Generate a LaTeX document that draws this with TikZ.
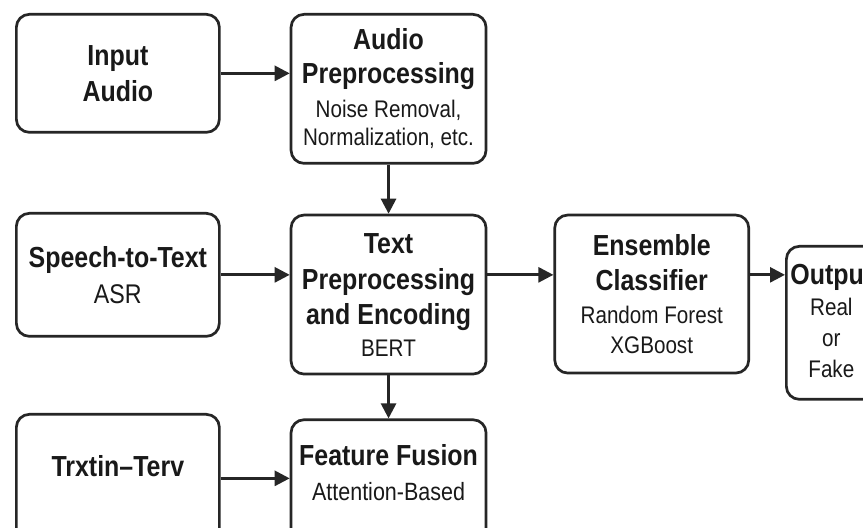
\documentclass[tikz,border=0pt]{standalone}
\usepackage{fontspec}
\setmainfont{Liberation Sans}[FakeStretch=0.86]
\usetikzlibrary{positioning, arrows.meta}

\newcommand\ttl{\fontsize{14.5}{14}\selectfont\bfseries}
\newcommand\sbt{\fontsize{12}{14}\selectfont\mdseries}

\tikzset{
  box/.style={draw=black!85, line width=1.35pt, rounded corners=6.5pt, align=center,
    font=\sbt, text=black!90, inner sep=2pt, anchor=north west},
  flow/.style={-{Triangle[length=7.5pt,width=7.5pt]}, line width=1.35pt, draw=black!85},
}

\begin{document}
\begin{tikzpicture}[x=0.5pt, y=-0.5pt]
\clip (0,0) rectangle (863,528);
\fill[white] (0,0) rectangle (863,528);

% top row
\node[box, minimum width=101.5pt, minimum height=59pt] (in) at (15,13)
  {\ttl Input\\[4pt]\ttl Audio};
\node[box, minimum width=97.5pt, minimum height=74.5pt,
  right=34.5pt of in.north east, anchor=north west] (ap)
  {\ttl Audio\\[3pt]\ttl Preprocessing\\[3pt]\sbt Noise Removal,\\\sbt Normalization, etc.};

% middle row
\node[box, minimum width=101.5pt, minimum height=61.5pt] (stt) at (15,212)
  {\ttl Speech-to-Text\\[4pt]\fontsize{13.5}{14}\selectfont ASR};
\node[box, minimum width=97.5pt, minimum height=79.5pt, below=24.5pt of ap.south] (tp)
  {\ttl Text\\[4pt]\ttl Preprocessing\\[3.5pt]\ttl and Encoding\\[2pt]\sbt BERT};
\node[box, minimum width=97pt, minimum height=79pt,
  right=33pt of tp.north east, anchor=north west] (ens)
  {\ttl Ensemble\\[3.5pt]\ttl Classifier\\[2.5pt]\sbt Random Forest\\[1pt]\sbt XGBoost};
\node[box, minimum width=45pt, minimum height=76.5pt] (out) at (785,245)
  {\mbox{}\\[-6pt]\ttl Output\\[1.5pt]\sbt Real\\[1.5pt]\sbt or\\[1.5pt]\sbt Fake};

% bottom row
\node[box, minimum width=101.5pt, minimum height=64pt] (tt) at (15,413)
  {\ttl Trxtin--Terv\\[-2pt]};
\node[box, minimum width=97.5pt, minimum height=72pt, below=21.5pt of tp.south] (ff)
  {\ttl Feature Fusion\\[3.5pt]\fontsize{12.5}{14}\selectfont Attention-Based\\[5pt]};

% connectors
\draw[flow] (in.east) -- (in.east -| ap.west);
\draw[flow] (ap.south) -- (tp.north);
\draw[flow] (stt.east) -- (stt.east -| tp.west);
\draw[flow] (stt.east -| tp.east) -- (stt.east -| ens.west);
\draw[flow] (stt.east -| ens.east) -- (stt.east -| out.west);
\draw[flow] (tp.south) -- (ff.north);
\draw[flow] (tt.east) -- (tt.east -| ff.west);

\end{tikzpicture}
\end{document}
